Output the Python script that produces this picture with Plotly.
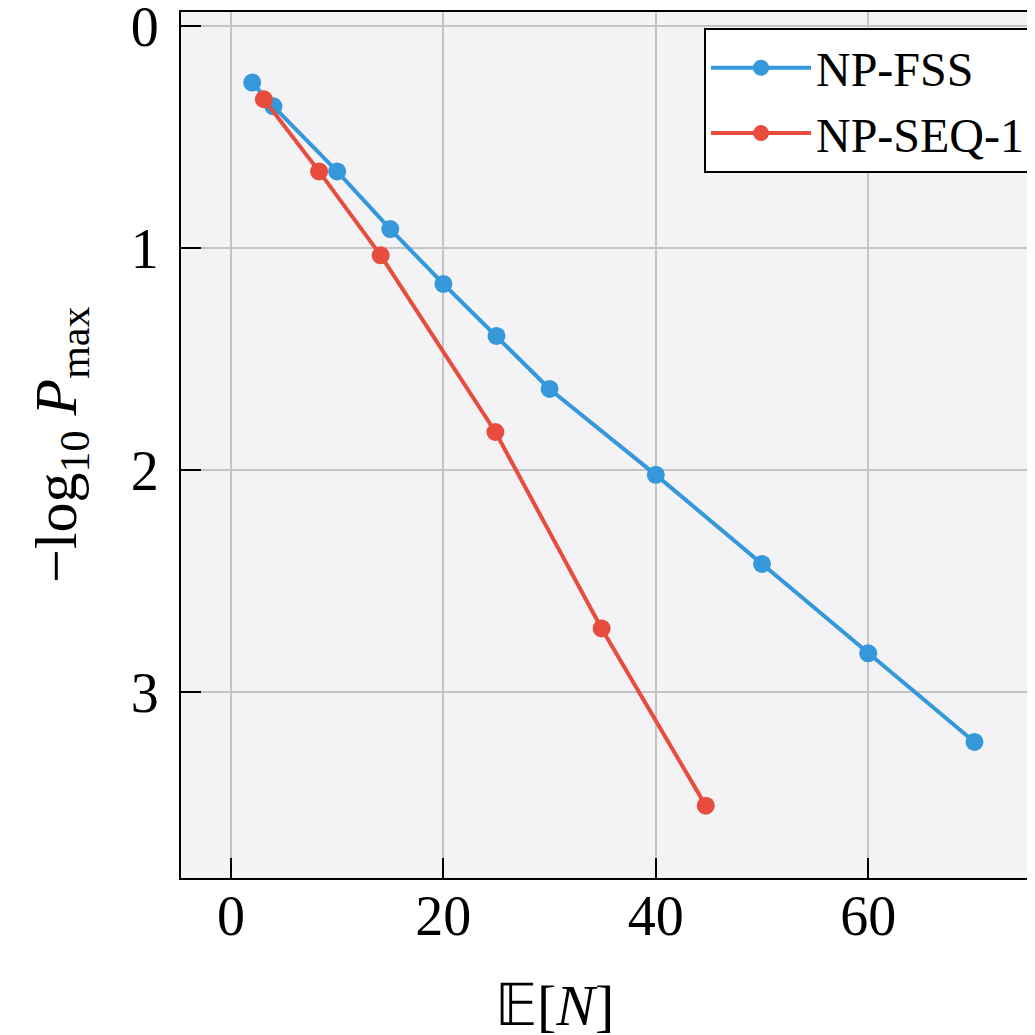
import plotly.graph_objects as go

fss_x = [2, 4, 10, 15, 20, 25, 30, 40, 50, 60, 70]
fss_y = [0.255, 0.362, 0.655, 0.915, 1.162, 1.396, 1.635, 2.022, 2.423, 2.826, 3.225]
seq_x = [3.1, 8.3, 14.1, 24.9, 34.9, 44.7]
seq_y = [0.330, 0.655, 1.033, 1.829, 2.714, 3.512]

x_ticks = [0, 20, 40, 60]
y_ticks = [0, 1, 2, 3]

BLUE = "#3498db"
RED = "#e74c3c"
FONT = "Liberation Serif"

fig = go.Figure()
fig.add_trace(go.Scatter(x=fss_x, y=fss_y, mode="lines+markers", name="NP-FSS",
                         line=dict(color=BLUE, width=4), marker=dict(color=BLUE, size=18)))
fig.add_trace(go.Scatter(x=seq_x, y=seq_y, mode="lines+markers", name="NP-SEQ-1",
                         line=dict(color=RED, width=4), marker=dict(color=RED, size=18)))

# page body has an 8px margin, so the figure is smaller and margins shifted
fig.update_layout(
    width=1027, height=1027,
    margin=dict(l=173, r=0, t=4, b=157, autoexpand=False),
    paper_bgcolor="white", plot_bgcolor="#f3f3f6",
    font=dict(family=FONT, size=48, color="black"),
    legend=dict(x=0.9965, y=0.9815, xanchor="right", yanchor="top",
                bgcolor="white", bordercolor="black", borderwidth=2,
                font=dict(family=FONT, size=48), itemwidth=100,
                tracegroupgap=0),
    showlegend=True,
    annotations=[
        dict(text="𝔼[<i>N</i>]", xref="paper", yref="paper", x=0.4368, y=-0.1467,
             xanchor="center", yanchor="middle", showarrow=False,
             font=dict(family=FONT, size=58)),
        dict(text="−log<sub>10</sub> <i>P</i><sub>max</sub>", xref="paper", yref="paper",
             x=-0.1417, y=0.5, xanchor="center", yanchor="middle", showarrow=False,
             textangle=-90, font=dict(family=FONT, size=60)),
    ],
)
fig.update_xaxes(range=[-4.7, 75.7], tickvals=x_ticks, showgrid=True, gridcolor="#c4c4c4",
                 gridwidth=2, zeroline=False, showline=True, linecolor="black", linewidth=2,
                 mirror=True, ticks="inside", ticklen=20, tickcolor="black", tickwidth=1.5,
                 ticklabelstandoff=-12, ticklabeloverflow="allow",
                 tickfont=dict(family=FONT, size=56), automargin=False)
fig.update_yaxes(range=[3.838, -0.063], tickvals=y_ticks, showgrid=True, gridcolor="#c4c4c4",
                 gridwidth=2, zeroline=False, showline=True, linecolor="black", linewidth=2,
                 mirror=True, ticks="inside", ticklen=20, tickcolor="black", tickwidth=1.5,
                 ticklabelstandoff=9, ticklabeloverflow="allow",
                 tickfont=dict(family=FONT, size=56), automargin=False)

fig.write_html("out.html")
